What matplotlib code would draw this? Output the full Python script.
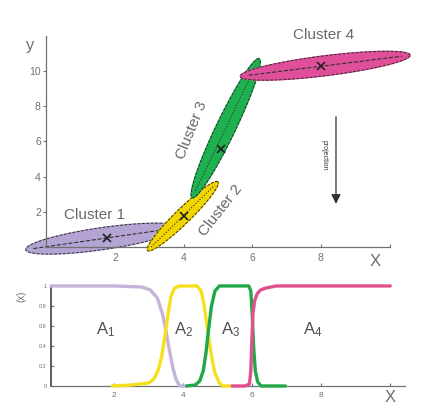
import numpy as np
import matplotlib
matplotlib.use("Agg")
import matplotlib.pyplot as plt

plt.rcParams['font.family'] = ['Liberation Sans', 'DejaVu Sans']

# ---- top panel: clusters (end points of the long axis, data units)
cluster_names = ["Cluster 1", "Cluster 2", "Cluster 3", "Cluster 4"]
cluster_x0 = [-0.6, 2.95, 4.25, 5.65]
cluster_y0 = [-0.15, -0.2, 2.8, 9.7]
cluster_x1 = [3.85, 5.0, 6.2, 10.6]
cluster_y1 = [1.1, 3.7, 10.7, 10.9]
cluster_half_width = [0.32, 0.22, 0.28, 0.29]
centre_x = [1.78, 4.0, 5.1, 8.0]
centre_y = [0.5, 1.75, 5.55, 10.3]
fill_colors = ["#b4a4d4", "#f2d400", "#1fb050", "#e0509a"]
inner_styles = ["--", ":", ":", "--"]

# ---- bottom panel: membership curves
mu1_x = [0.17, 1.0, 2.0, 2.8, 3.05, 3.25, 3.4, 3.5, 3.6, 3.7, 3.8, 3.9, 4.1]
mu1_y = [1, 1, 1, 0.99, 0.96, 0.88, 0.72, 0.55, 0.36, 0.18, 0.06, 0.0, 0.0]
mu2_x = [1.95, 2.5, 3.0, 3.15, 3.28, 3.38, 3.47, 3.56, 3.65, 3.75, 3.9, 4.4,
         4.52, 4.6, 4.67, 4.74, 4.82, 4.92, 5.05, 5.15, 5.42]
mu2_y = [0, 0.01, 0.03, 0.07, 0.16, 0.3, 0.5, 0.72, 0.9, 0.98, 1, 1,
         0.95, 0.82, 0.65, 0.48, 0.3, 0.13, 0.03, 0.0, 0.0]
mu3_x = [4.1, 4.35, 4.48, 4.58, 4.66, 4.73, 4.82, 4.92, 5.05, 5.9, 5.96,
         6.0, 6.04, 6.09, 6.16, 6.26, 6.96]
mu3_y = [0, 0.01, 0.05, 0.15, 0.33, 0.55, 0.8, 0.95, 1, 1, 0.95,
         0.72, 0.4, 0.15, 0.04, 0, 0]
mu4_x = [5.42, 5.8, 5.92, 5.96, 5.99, 6.02, 6.07, 6.14, 6.24, 6.4, 6.7, 8.0, 10.0]
mu4_y = [0, 0, 0.02, 0.15, 0.45, 0.72, 0.85, 0.92, 0.96, 0.98, 1, 1, 1]
mu_colors = ["#c4b4da", "#f6e01e", "#20a848", "#e0508e"]
area_labels = [r"$\mathregular{A_1}$", r"$\mathregular{A_2}$",
               r"$\mathregular{A_3}$", r"$\mathregular{A_4}$"]
area_x = [1.74, 4.0, 5.36, 7.74]

GRAY = "#707070"

fig = plt.figure(figsize=(4.22, 4.19), dpi=100)

# ---------------- top axes
ax = fig.add_axes([0.110, 0.4105, 0.813, 0.504])
ax.set_xlim(0, 10)
ax.set_ylim(0, 12)
aspect = (0.504 * 4.19 / 12) / (0.813 * 4.22 / 10)  # y unit in x units (visual)

t = np.linspace(0, 2 * np.pi, 200)
for i in range(4):
    p0 = np.array([cluster_x0[i], cluster_y0[i] * aspect])
    p1 = np.array([cluster_x1[i], cluster_y1[i] * aspect])
    c = (p0 + p1) / 2
    u = (p1 - p0) / 2
    v = np.array([-u[1], u[0]]) / np.linalg.norm(u) * cluster_half_width[i]
    ex = c[0] + u[0] * np.cos(t) + v[0] * np.sin(t)
    ey = (c[1] + u[1] * np.cos(t) + v[1] * np.sin(t)) / aspect
    ax.fill(ex, ey, color=fill_colors[i], zorder=2 + i, clip_on=False)
    ax.plot(ex, ey, color="#303030", lw=0.7, ls=(0, (3, 1.5)), zorder=2 + i, clip_on=False)
    a0 = c - 0.9 * u
    a1 = c + 0.9 * u
    ax.plot([a0[0], a1[0]], [a0[1] / aspect, a1[1] / aspect], color="#303030",
            lw=0.8, ls=inner_styles[i], zorder=2 + i, clip_on=False)
    ax.plot(centre_x[i], centre_y[i], marker="x", color="#202020", ms=6, mew=1.2,
            zorder=10, clip_on=False)

for s in ["top", "right"]:
    ax.spines[s].set_visible(False)
for s in ["left", "bottom"]:
    ax.spines[s].set_color(GRAY)
    ax.spines[s].set_linewidth(0.9)
ax.set_xticks([2, 4, 6, 8, 10])
ax.set_xticklabels(["2", "4", "6", "8", ""])
ax.set_yticks([2, 4, 6, 8, 10])
ax.tick_params(axis="x", direction="in", length=2, colors=GRAY, labelsize=7.5, pad=4)
ax.tick_params(axis="y", direction="out", length=2, colors=GRAY, labelsize=7.5, pad=2)
ax.text(-0.48, 11.45, "y", fontsize=12, color=GRAY, ha="center", va="center")
ax.text(9.57, -0.85, "X", fontsize=12, color=GRAY, ha="center", va="center")

ax.text(1.41, 1.82, cluster_names[0], fontsize=11, color="#686868", ha="center", va="center")
ax.text(5.09, 2.05, cluster_names[1], fontsize=11, color="#686868", ha="center",
        va="center", rotation=52)
ax.text(4.24, 6.65, cluster_names[2], fontsize=11, color="#686868", ha="center",
        va="center", rotation=68)
ax.text(8.09, 12.05, cluster_names[3], fontsize=11, color="#686868", ha="center",
        va="center", clip_on=False)

# projection arrow
ax.annotate("", xy=(8.44, 2.45), xytext=(8.44, 7.4),
            arrowprops=dict(arrowstyle="-|>", color="#303030", lw=0.9,
                            mutation_scale=14, shrinkA=0, shrinkB=0))
ax.text(8.1, 5.2, "projection", fontsize=5, rotation=270, color="#303030",
        ha="center", va="center")

# ---------------- bottom axes
bx = fig.add_axes([0.1209, 0.0788, 0.839, 0.2387])
bx.set_xlim(0.17, 10.43)
bx.set_ylim(0, 1)
for xs, ys, col in zip([mu1_x, mu2_x, mu3_x, mu4_x], [mu1_y, mu2_y, mu3_y, mu4_y], mu_colors):
    bx.plot(xs, ys, color=col, lw=2.4, solid_joinstyle="round",
            solid_capstyle="round", clip_on=False, zorder=3)
for lab, xp in zip(area_labels, area_x):
    bx.text(xp, 0.56, lab, fontsize=12, color="#505050", ha="center", va="center")

for s in ["top", "right"]:
    bx.spines[s].set_visible(False)
bx.spines["left"].set_color("#404040")
bx.spines["left"].set_linewidth(1.2)
bx.spines["bottom"].set_color(GRAY)
bx.spines["bottom"].set_linewidth(0.9)
bx.set_xticks([2, 4, 6, 8, 10])
bx.set_xticklabels(["2", "4", "6", "8", ""])
bx.set_yticks([0, 0.2, 0.4, 0.6, 0.8, 1])
bx.set_yticklabels(["0", "0.2", "0.4", "0.6", "0.8", "1"])
bx.tick_params(axis="x", direction="in", length=2, colors=GRAY, labelsize=6, pad=4)
bx.tick_params(axis="y", direction="in", length=2, colors=GRAY, labelsize=4, pad=3)
bx.text(-0.7, 0.9, "(x)", fontsize=7, color=GRAY, rotation=90, ha="center", va="center")
bx.text(10.0, -0.12, "X", fontsize=12, color=GRAY, ha="center", va="center")

fig.savefig("out.png", dpi=100)
